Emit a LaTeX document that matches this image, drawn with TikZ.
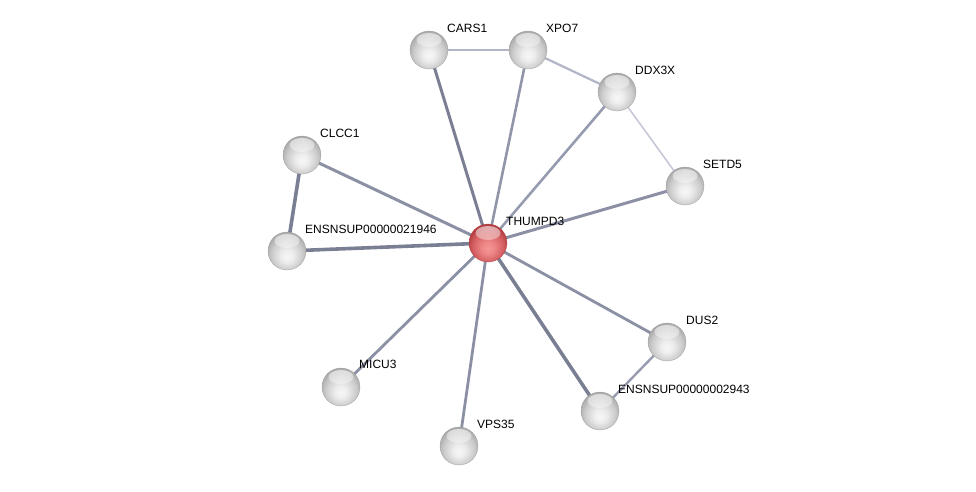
\documentclass[tikz,border=0pt]{standalone}
\usepackage{fontspec}
\setmainfont{Liberation Sans}
\usetikzlibrary{backgrounds,fadings}
\pgfdeclareradialshading{graysphere}{\pgfpoint{0bp}{-8bp}}{%
 color(0bp)=(white!97!black); color(8bp)=(white!93!black); color(20bp)=(white!80!black);
 color(27bp)=(white!68!black); color(34bp)=(white!55!black); color(50bp)=(white!55!black)}
\pgfdeclareradialshading{redsphere}{\pgfpoint{0bp}{-8bp}}{%
 color(0bp)=(rgb,255:red,245;green,150;blue,150); color(8bp)=(rgb,255:red,238;green,135;blue,135);
 color(20bp)=(rgb,255:red,212;green,95;blue,98); color(27bp)=(rgb,255:red,180;green,60;blue,64);
 color(34bp)=(rgb,255:red,150;green,40;blue,45); color(50bp)=(rgb,255:red,150;green,40;blue,45)}
\definecolor{edgeA}{RGB}{122,127,148}
\definecolor{edgeB}{RGB}{150,155,176}
\definecolor{edgeC}{RGB}{178,181,200}
\definecolor{edgeD}{RGB}{198,200,216}
\tikzset{
 ball/.style={circle, minimum size=38pt, inner sep=0pt, shade, shading=graysphere,
   draw=white!62!black, line width=0.3pt,
   path picture={\fill[white, path fading=south, opacity=0.6]
     ([yshift=10pt]path picture bounding box.center) ellipse [x radius=12.5pt, y radius=7pt];}},
 redball/.style={ball, shading=redsphere, draw=white!40!red!70!black},
 lbl/.style={anchor=west, font=\fontsize{12}{13}\selectfont, inner sep=0pt, text=black},
 lnk/.style={draw=edgeA, line width=2.8pt},
}
\begin{document}
\begin{tikzpicture}[x=1pt,y=-1pt]
\useasboundingbox (0,0) rectangle (976,491);
\node[redball] (thu) at (488,243) {};
\node[ball] (cars) at (429,50) {};
\node[ball] (xpo) at (528,50) {};
\node[ball] (ddx) at (617,92) {};
\node[ball] (setd) at (685,186) {};
\node[ball] (clcc) at (302,155) {};
\node[ball] (ens1) at (287,251) {};
\node[ball] (dus) at (667,342) {};
\node[ball] (ens2) at (600,411) {};
\node[ball] (micu) at (341,387) {};
\node[ball] (vps) at (459,446) {};
\node[lbl] (lthu) at (506,221) {THUMPD3};
\node[lbl] (lcars) at (447,28) {CARS1};
\node[lbl] (lxpo) at (546,28) {XPO7};
\node[lbl] (lddx) at (635,70) {DDX3X};
\node[lbl] (lsetd) at (703,164) {SETD5};
\node[lbl] (lclcc) at (320,133) {CLCC1};
\node[lbl] (lens1) at (305,229) {ENSNSUP00000021946};
\node[lbl] (ldus) at (686,320) {DUS2};
\node[lbl] (lens2) at (618,389) {ENSNSUP00000002943};
\node[lbl] (lmicu) at (359,364) {MICU3};
\node[lbl] (lvps) at (477,424) {VPS35};
\begin{scope}[on background layer]
\draw[lnk, line width=3pt] (thu.center) -- (cars.center);
\draw[lnk, draw=edgeB!80!edgeA, line width=2.6pt] (thu.center) -- (xpo.center);
\draw[lnk, draw=edgeB, line width=2.6pt] (thu.center) -- (ddx.center);
\draw[lnk, draw=edgeB!60!edgeA, line width=3pt] (thu.center) -- (setd.center);
\draw[lnk, draw=edgeB!60!edgeA, line width=3pt] (thu.center) -- (clcc.center);
\draw[lnk, line width=3.6pt] (thu.center) -- (ens1.center);
\draw[lnk, line width=3.6pt] (clcc.center) -- (ens1.center);
\draw[lnk, draw=edgeB!60!edgeA, line width=2.8pt] (thu.center) -- (dus.center);
\draw[lnk, line width=3.6pt] (thu.center) -- (ens2.center);
\draw[lnk, draw=edgeB, line width=2.4pt] (dus.center) -- (ens2.center);
\draw[lnk, draw=edgeB!60!edgeA, line width=2.8pt] (thu.center) -- (micu.center);
\draw[lnk, draw=edgeB!60!edgeA, line width=2.8pt] (thu.center) -- (vps.center);
\draw[lnk, draw=edgeC, line width=2.2pt] (cars.center) -- (xpo.center);
\draw[lnk, draw=edgeC, line width=2.2pt] (xpo.center) -- (ddx.center);
\draw[lnk, draw=edgeD, line width=1.6pt] (ddx.center) -- (setd.center);
\end{scope}
\end{tikzpicture}
\end{document}
